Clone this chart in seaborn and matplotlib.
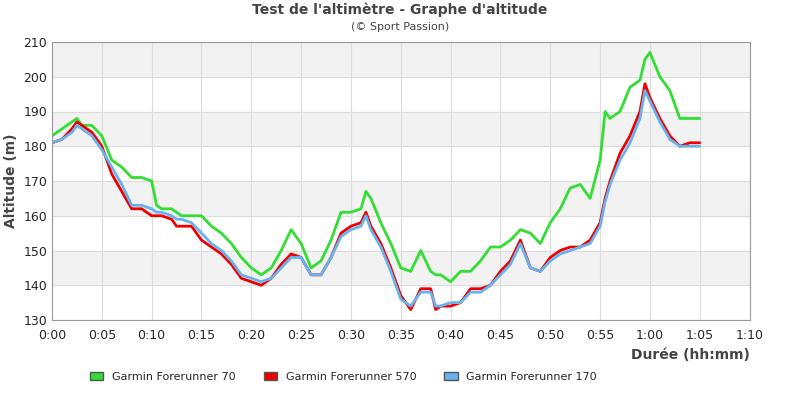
import matplotlib
matplotlib.use("Agg")
import matplotlib.pyplot as plt
import seaborn as sns
import pandas as pd
from matplotlib.patches import Patch

minutes = [0, 1, 2, 2.5, 3, 4, 5, 6, 7, 8, 9, 10, 10.5, 11, 12, 12.5, 13, 14, 15, 16, 17, 18, 19, 20,
           21, 22, 23, 24, 25, 26, 27, 28, 29, 30, 31, 31.5, 32, 33, 34, 35, 36, 37, 38, 38.5, 39, 40,
           41, 42, 43, 44, 45, 46, 47, 48, 49, 50, 51, 52, 53, 54, 55, 55.5, 56, 57, 58, 59, 59.5, 60,
           61, 62, 63, 64, 65]
fr70 = [183, 185, 187, 188, 186, 186, 183, 176, 174, 171, 171, 170, 163, 162, 162, 161, 160, 160, 160,
        157, 155, 152, 148, 145, 143, 145, 150, 156, 152, 145, 147, 153, 161, 161, 162, 167, 165, 158,
        152, 145, 144, 150, 144, 143, 143, 141, 144, 144, 147, 151, 151, 153, 156, 155, 152, 158, 162,
        168, 169, 165, 176, 190, 188, 190, 197, 199, 205, 207, 200, 196, 188, 188, 188]
fr570 = [181, 182, 185, 187, 186, 184, 180, 172, 167, 162, 162, 160, 160, 160, 159, 157, 157, 157, 153,
         151, 149, 146, 142, 141, 140, 142, 146, 149, 148, 143, 143, 148, 155, 157, 158, 161, 157, 152,
         145, 137, 133, 139, 139, 133, 134, 134, 135, 139, 139, 140, 144, 147, 153, 145, 144, 148, 150,
         151, 151, 153, 158, 165, 170, 178, 183, 190, 198, 194, 188, 183, 180, 181, 181]
fr170 = [181, 182, 184, 186, 185, 183, 179, 174, 169, 163, 163, 162, 161, 161, 160, 159, 159, 158, 155,
         152, 150, 147, 143, 142, 141, 142, 145, 148, 148, 143, 143, 148, 154, 156, 157, 160, 156, 151,
         144, 136, 134, 138, 138, 134, 134, 135, 135, 138, 138, 140, 143, 146, 152, 145, 144, 147, 149,
         150, 151, 152, 157, 164, 169, 176, 181, 188, 196, 193, 187, 182, 180, 180, 180]
series_names = ["Garmin Forerunner 70", "Garmin Forerunner 570", "Garmin Forerunner 170"]
colors = ["#33dd33", "#ee0000", "#66b3ee"]
tick_minutes = list(range(0, 71, 5))
tick_labels = [f"{m // 60}:{m % 60:02d}" for m in tick_minutes]

df = pd.concat([
    pd.DataFrame({"t": minutes, "alt": vals, "s": name})
    for vals, name in zip([fr70, fr570, fr170], series_names)
])

sns.set_style("white")
plt.rcParams["font.family"] = ["DejaVu Sans"]
fig = plt.figure(figsize=(8, 4), dpi=100)
ax = fig.add_axes([0.065, 0.2, 0.872, 0.695])
for lo in (140, 160, 180, 200):
    ax.axhspan(lo, lo + 10, color="#f2f2f2", zorder=0)
ax.grid(True, color="#dddddd", linewidth=0.8)
ax.set_axisbelow(True)
sns.lineplot(data=df, x="t", y="alt", hue="s", palette=colors, linewidth=2, legend=False, ax=ax)
ax.set_xlim(0, 70)
ax.set_ylim(130, 210)
ax.set_xticks(tick_minutes)
ax.set_xticklabels(tick_labels, fontsize=9)
ax.set_yticks(range(130, 211, 10))
ax.tick_params(axis="y", labelsize=9, length=0)
ax.tick_params(axis="x", length=3)
for sp in ax.spines.values():
    sp.set_color("#999999")
ax.set_xlabel("Durée (hh:mm)", fontsize=10, fontweight="bold", color="#444444", loc="right")
ax.set_ylabel("Altitude (m)", fontsize=10, fontweight="bold", color="#444444")
fig.text(0.5, 0.965, "Test de l'altimètre - Graphe d'altitude", ha="center", fontsize=10,
         fontweight="bold", color="#444444")
fig.text(0.5, 0.925, "(© Sport Passion)", ha="center", fontsize=8, color="#444444")
handles = [Patch(facecolor=c, edgecolor="#555555", label=n) for c, n in zip(colors, series_names)]
fig.legend(handles=handles, loc="lower left", bbox_to_anchor=(0.1, 0.02), ncol=3, frameon=False,
           fontsize=8, handlelength=1.2, handleheight=0.8, columnspacing=2.5)
fig.savefig("out.png", dpi=100)
